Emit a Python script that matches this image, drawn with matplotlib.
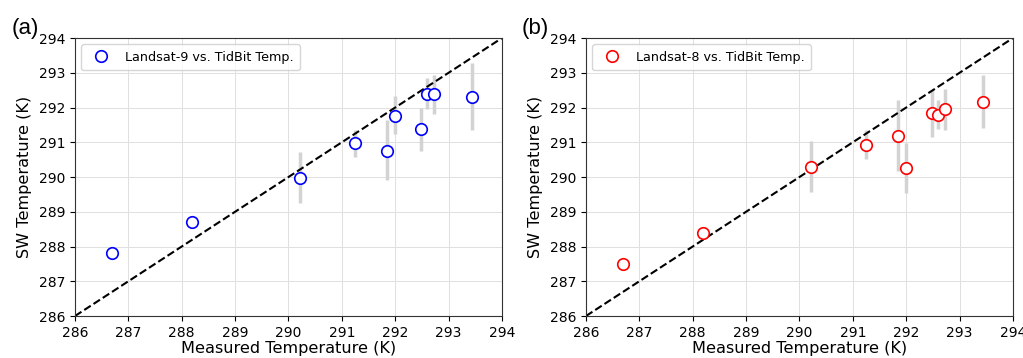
import numpy as np
import matplotlib
matplotlib.use('Agg')
import matplotlib.pyplot as plt

# measured (TidBit) temperature, K
measured = [286.70, 288.20, 290.21, 291.24, 291.85, 292.00, 292.48, 292.60, 292.73, 293.44]

# Landsat-9 split-window temperature and error bar ends
l9_sw = [287.80, 288.70, 289.98, 290.97, 290.76, 291.77, 291.37, 292.40, 292.38, 292.31]
l9_lo = [287.80, 288.70, 289.25, 290.59, 289.90, 291.24, 290.76, 291.96, 291.81, 291.34]
l9_hi = [287.80, 288.70, 290.71, 291.36, 291.63, 292.32, 291.98, 292.85, 292.95, 293.28]

# Landsat-8
l8_sw = [287.50, 288.40, 290.29, 290.93, 291.19, 290.26, 291.83, 291.79, 291.96, 292.17]
l8_lo = [287.50, 288.40, 289.56, 290.51, 290.16, 289.54, 291.14, 291.38, 291.36, 291.41]
l8_hi = [287.50, 288.40, 291.04, 291.36, 292.22, 290.98, 292.51, 292.22, 292.54, 292.93]

ticks = list(range(286, 295))


def panel(ax, sw, lo, hi, color, label):
    sw = np.array(sw)
    yerr = [sw - np.array(lo), np.array(hi) - sw]
    ax.errorbar(measured, sw, yerr=yerr, fmt='none', ecolor='lightgray', elinewidth=2.5, zorder=2)
    ax.plot(measured, sw, 'o', mfc='white', mec=color, ms=8.3, mew=1.2, label=label, zorder=3, ls='none')
    ax.plot([286, 294], [286, 294], 'k--', lw=1.5, zorder=2)
    ax.set_xlim(286, 294)
    ax.set_ylim(286, 294)
    ax.set_xticks(ticks)
    ax.set_yticks(ticks)
    ax.tick_params(labelsize=10)
    ax.grid(True, color='0.88', lw=0.7, zorder=0)
    ax.set_axisbelow(True)
    for s in ax.spines.values():
        s.set_color('0.2')
    ax.set_xlabel('Measured Temperature (K)', fontsize=11.6, labelpad=1)
    ax.set_ylabel('SW Temperature (K)', fontsize=11.6, labelpad=5)
    ax.legend(loc='upper left', fontsize=9.2, handletextpad=0.9, borderpad=0.5)
    return ax


fig = plt.figure(figsize=(10.23, 3.58), dpi=100)
ax1 = fig.add_axes([0.0733, 0.1173, 0.4174, 0.7765])
ax2 = fig.add_axes([0.5728, 0.1173, 0.4174, 0.7765])
panel(ax1, l9_sw, l9_lo, l9_hi, 'blue', 'Landsat-9 vs. TidBit Temp.')
panel(ax2, l8_sw, l8_lo, l8_hi, 'red', 'Landsat-8 vs. TidBit Temp.')
fig.text(0.011, 0.905, '(a)', fontsize=16, family='Liberation Sans')
fig.text(0.510, 0.905, '(b)', fontsize=16, family='Liberation Sans')

fig.savefig('out.png', dpi=100)
